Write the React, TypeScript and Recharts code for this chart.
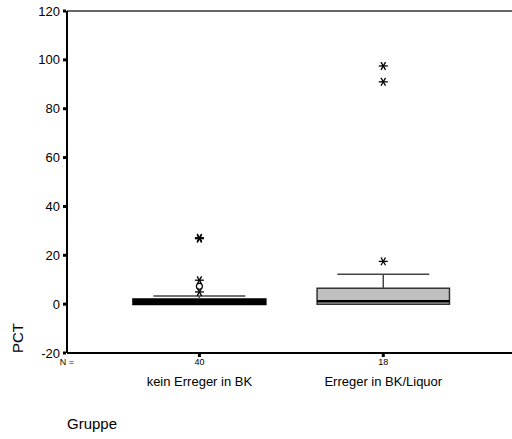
import React from 'react';
import {
  ComposedChart, XAxis, YAxis, Scatter, ReferenceArea, ReferenceLine, Label,
} from 'recharts';

const categories = ['kein Erreger in BK', 'Erreger in BK/Liquor'];
const categoryX = [1, 2];
const counts = [40, 18];
const q1 = [0, 0];
const medians = [1.0, 1.2];
const q3 = [2.0, 6.5];
const whiskerHigh = [3.3, 12.2];
const extremes = [[26.8, 27.2, 9.8, 5.0], [17.5, 91, 97.5]];
const outliers = [[7.3], []];
const yTicks = [-20, 0, 20, 40, 60, 80, 100, 120];
const xDomain = [0.28, 2.7];

const FONT = 'Liberation Sans, Arial, sans-serif';
const BOX_HALF = 0.36;
const CAP_HALF = 0.25;

const starData = extremes.flatMap((vals, i) => vals.map((v) => ({ x: categoryX[i], y: v })));
const circleData = outliers.flatMap((vals, i) => vals.map((v) => ({ x: categoryX[i], y: v })));

const Star = (props: any) => {
  const { cx, cy } = props;
  const r = 4.5;
  const a = r * Math.cos(Math.PI / 3);
  const b = r * Math.sin(Math.PI / 3);
  return (
    <g stroke="#000" strokeWidth={1.3}>
      <line x1={cx - r} y1={cy} x2={cx + r} y2={cy} />
      <line x1={cx - a} y1={cy - b} x2={cx + a} y2={cy + b} />
      <line x1={cx - a} y1={cy + b} x2={cx + a} y2={cy - b} />
    </g>
  );
};

const Circle = (props: any) => {
  const { cx, cy } = props;
  return <circle cx={cx} cy={cy} r={3} fill="#fff" stroke="#000" strokeWidth={1.2} />;
};

const XTick = (props: any) => {
  const { x, y, payload } = props;
  const idx = categoryX.indexOf(payload.value);
  if (idx < 0) {
    return (
      <text x={x} y={y + 10} textAnchor="middle" fontSize={9} fontFamily={FONT} fill="#000">
        N =
      </text>
    );
  }
  return (
    <g>
      <rect x={x - 1.5} y={y - 1} width={3} height={3} fill="#000" />
      <text x={x} y={y + 10} textAnchor="middle" fontSize={9} fontFamily={FONT} fill="#000">
        {counts[idx]}
      </text>
      <text x={x} y={y + 31} textAnchor="middle" fontSize={13} fontFamily={FONT} fill="#000">
        {categories[idx]}
      </text>
    </g>
  );
};

const YTick = (props: any) => {
  const { x, y, payload } = props;
  return (
    <g>
      <rect x={x + 1} y={y - 1.5} width={3} height={3} fill="#000" />
      <text x={x - 2} y={y} dy="0.355em" textAnchor="end" fontSize={13} fontFamily={FONT} fill="#000">
        {payload.value}
      </text>
    </g>
  );
};

export default function App() {
  return (
    <div style={{ position: 'absolute', left: 0, top: 0, width: 512, height: 439, background: '#fff' }}>
      <ComposedChart
        width={512}
        height={439}
        margin={{ top: 11, right: 0, bottom: 36, left: 0 }}
        style={{ fontFamily: FONT }}
      >
        <XAxis
          type="number"
          dataKey="x"
          domain={xDomain}
          ticks={[xDomain[0], ...categoryX]}
          allowDataOverflow
          height={50}
          axisLine={{ stroke: '#000', strokeWidth: 2 }}
          tickLine={false}
          tickSize={0}
          tickMargin={2}
          tick={<XTick />}
          interval={0}
        />
        <YAxis
          type="number"
          domain={[-20, 120]}
          ticks={yTicks}
          width={67}
          allowDataOverflow
          axisLine={{ stroke: '#000', strokeWidth: 2 }}
          tickLine={false}
          tickSize={0}
          tickMargin={5}
          tick={<YTick />}
          interval={0}
        >
          <Label
            content={() => (
              <text
                x={23}
                y={338}
                transform="rotate(-90 23 338)"
                textAnchor="middle"
                fontSize={15}
                fontFamily={FONT}
                fill="#000"
              >
                PCT
              </text>
            )}
          />
        </YAxis>
        <ReferenceLine y={120} stroke="#333" strokeWidth={1.5} />
        {categoryX.map((cx, i) => (
          <ReferenceLine
            key={'w' + i}
            segment={[{ x: cx, y: q3[i] }, { x: cx, y: whiskerHigh[i] }]}
            stroke="#444"
            strokeWidth={1.5}
          />
        ))}
        {categoryX.map((cx, i) => (
          <ReferenceLine
            key={'c' + i}
            segment={[{ x: cx - CAP_HALF, y: whiskerHigh[i] }, { x: cx + CAP_HALF, y: whiskerHigh[i] }]}
            stroke="#444"
            strokeWidth={1.5}
          />
        ))}
        {categoryX.map((cx, i) => (
          <ReferenceArea
            key={'b' + i}
            x1={cx - BOX_HALF}
            x2={cx + BOX_HALF}
            y1={q1[i]}
            y2={q3[i]}
            fill={i === 0 ? '#000' : '#c0c0c0'}
            fillOpacity={1}
            stroke={i === 0 ? '#000' : '#333'}
            strokeWidth={i === 0 ? 2 : 1.5}
          />
        ))}
        {categoryX.map((cx, i) => (
          <ReferenceLine
            key={'m' + i}
            segment={[{ x: cx - BOX_HALF, y: medians[i] }, { x: cx + BOX_HALF, y: medians[i] }]}
            stroke="#000"
            strokeWidth={2.5}
          />
        ))}
        <Scatter data={starData} dataKey="y" shape={<Star />} isAnimationActive={false} />
        <Scatter data={circleData} dataKey="y" shape={<Circle />} isAnimationActive={false} />
      </ComposedChart>
      <div
        style={{
          position: 'absolute',
          left: 67,
          top: 415,
          fontSize: 15,
          fontFamily: FONT,
          color: '#000',
          lineHeight: '17px',
        }}
      >
        Gruppe
      </div>
    </div>
  );
}
